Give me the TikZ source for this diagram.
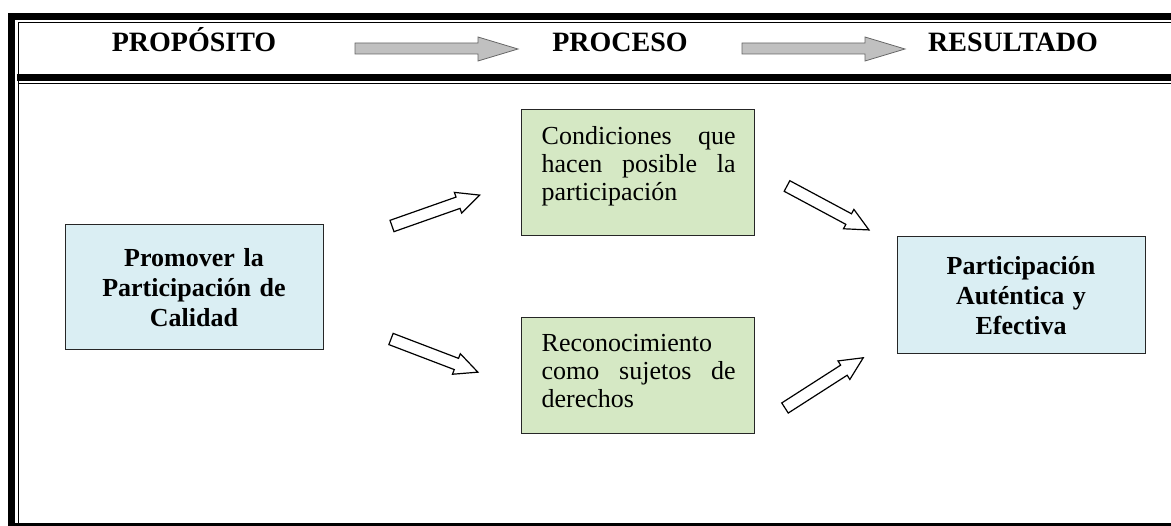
\documentclass[tikz,border=0pt]{standalone}
\usepackage{fontspec}
\setmainfont{Liberation Serif}
\usetikzlibrary{positioning}

\definecolor{boxblue}{HTML}{DAEEF3}
\definecolor{boxgreen}{HTML}{D5E8C4}
\definecolor{headgray}{HTML}{C0C0C0}

\tikzset{
  headtext/.style={anchor=base, inner sep=0pt, font=\fontsize{28}{32}\selectfont\bfseries},
  bluebox/.style={draw=black!85, line width=1pt, fill=boxblue, text width=230pt, align=center,
    font=\fontsize{26}{30}\selectfont\bfseries},
  greenbox/.style={draw=black!85, line width=1pt, fill=boxgreen},
  boxtext/.style={inner sep=0pt, text width=194pt, align=left, font=\fontsize{26}{28}\selectfont},
  headarrow/.style={draw=black!60, line width=0.8pt, fill=headgray},
  openarrow/.pic={
    \draw[line width=1.2pt, fill=white, line join=miter]
      (0,-6) -- (70,-6) -- (70,-11) -- (93,0) -- (70,11) -- (70,6) -- (0,6) -- cycle;
  }
}

\begin{document}
\begin{tikzpicture}[x=1pt, y=-1pt]
    \useasboundingbox (0,0) rectangle (1171,526);
    % Frame
    \fill (8,13) rectangle (15,526);
    \fill (8,13) rectangle (1171,20);
    \fill (17,74) rectangle (1171,81);
    \draw[line width=1.5pt] (18.3,22.5) -- (1171,22.5);
    \draw[line width=1.5pt] (18.3,22.5) -- (18.3,526);
    \draw[line width=1.5pt] (18.3,83.5) -- (1171,83.5);
    \fill (8,523) rectangle (1171,526);
    % Header
    \node (prop) at (194,52) [headtext] {PROPÓSITO};
    \node (proc) at (620,52) [headtext] {PROCESO};
    \node (resu) at (1013,52) [headtext] {RESULTADO};
    \draw[headarrow] (355,43) -- (478,43) -- (478,37) -- (518,49) -- (478,61) -- (478,54) -- (355,54) -- cycle;
    \draw[headarrow] (742,43) -- (865,43) -- (865,37) -- (905,49) -- (865,61) -- (865,54) -- (742,54) -- cycle;
    % Boxes
    \node (prom) at (194,287.5) [bluebox, minimum width=258pt, minimum height=125pt] {Promover la\\Participación de\\Calidad};
    \node (cond) at (637.5,173) [greenbox, minimum width=233pt, minimum height=126pt] {};
    \node (reco) at (637.5,376) [greenbox, minimum width=233pt, minimum height=116pt] {};
    \node (part) at (1021,295.5) [bluebox, minimum width=248pt, minimum height=117pt] {Participación\\Auténtica y\\Efectiva};
    \node (condtext) [boxtext, below right=17pt and 21pt of cond.north west] {Condiciones\hfill que\\hacen\hfill posible\hfill la\\participación};
    \node (recotext) [boxtext, below right=17pt and 21pt of reco.north west] {Reconocimiento\\como\hfill sujetos\hfill de\\derechos};
    % Arrows
    \pic[rotate=19.4] at (392,226) {openarrow};
    \pic[rotate=-20.9] at (391,339) {openarrow};
    \pic[rotate=-28.2] at (787,186) {openarrow};
    \pic[rotate=32.7] at (785,408) {openarrow};
\end{tikzpicture}
\end{document}
